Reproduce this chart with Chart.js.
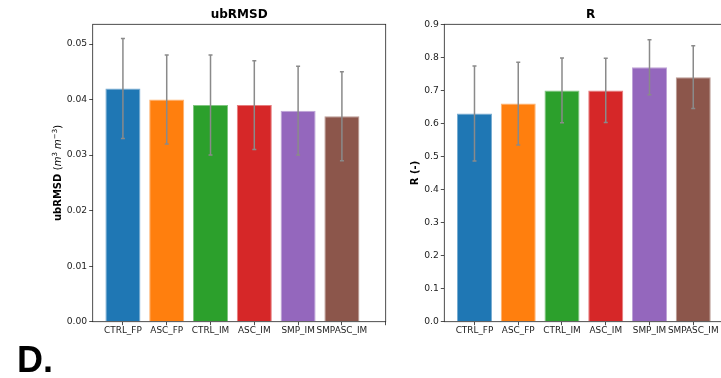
<!DOCTYPE html>
<html>
<head>
<meta charset="utf-8">
<script src="https://cdn.jsdelivr.net/npm/chart.js@4.4.1/dist/chart.umd.min.js"></script>
<style>
  html, body { margin: 0; padding: 0; background: #fff; overflow: hidden; width: 721px; height: 378px }
  #grafico-ubrmsd { position: absolute; left: 0; top: 0 }
  #grafico-r { position: absolute; left: 380px; top: 0 }
  #letra { position: absolute; left: 17px; top: 342px; font: bold 36px 'Liberation Sans', Arial, sans-serif; line-height: 1; color: #000 }
</style>
</head>
<body>
<canvas id="grafico-ubrmsd" width="400" height="378"></canvas>
<canvas id="grafico-r" width="400" height="378"></canvas>
<div id="letra">D.</div>
<script>
const categorias = ['CTRL_FP', 'ASC_FP', 'CTRL_IM', 'ASC_IM', 'SMP_IM', 'SMPASC_IM']
const ubrmsd = [0.042, 0.040, 0.039, 0.039, 0.038, 0.037]
const erroUbrmsd = [0.009, 0.008, 0.009, 0.008, 0.008, 0.008]
const valoresR = [0.63, 0.66, 0.70, 0.70, 0.77, 0.74]
const erroR = [0.144, 0.125, 0.098, 0.097, 0.083, 0.095]
const ticksUbrmsd = [0, 0.01, 0.02, 0.03, 0.04, 0.05]
const ticksR = [0, 0.1, 0.2, 0.3, 0.4, 0.5, 0.6, 0.7, 0.8, 0.9]
const cores = ['#1f77b4', '#ff7f0e', '#2ca02c', '#d62728', '#9467bd', '#8c564b']

const fonte = 'DejaVu Sans'
// posicoes dos ticks do eixo x (um a mais no fim, sem rotulo)
const posicoesX = [...categorias.map((c, i) => i), categorias.length]

function clarear(hex, f) {
    const n = parseInt(hex.slice(1), 16)
    const mix = c => Math.round(c + (255 - c) * f)
    return `rgb(${mix(n >> 16)},${mix((n >> 8) & 255)},${mix(n & 255)})`
}

const moldura = {
    id: 'moldura',
    afterDraw(chart) {
        const { ctx, chartArea: a } = chart
        ctx.save()
        ctx.strokeStyle = '#222'
        ctx.lineWidth = 0.8
        ctx.strokeRect(a.left, a.top, a.right - a.left, a.bottom - a.top)
        ctx.restore()
    }
}

const barrasErro = {
    id: 'barrasErro',
    afterDatasetsDraw(chart, args, opts) {
        const { ctx } = chart
        const y = chart.scales.y
        const meta = chart.getDatasetMeta(0)
        const dados = chart.data.datasets[0].data
        ctx.save()
        ctx.strokeStyle = '#8a8a8a'
        ctx.lineWidth = 1.5
        meta.data.forEach((barra, i) => {
            const v = dados[i].y
            const e = opts.erros[i]
            const topo = y.getPixelForValue(v + e)
            const base = y.getPixelForValue(v - e)
            ctx.beginPath()
            ctx.moveTo(barra.x, topo)
            ctx.lineTo(barra.x, base)
            ctx.moveTo(barra.x - 2, topo)
            ctx.lineTo(barra.x + 2, topo)
            ctx.moveTo(barra.x - 2, base)
            ctx.lineTo(barra.x + 2, base)
            ctx.stroke()
        })
        ctx.restore()
    }
}

// rotulo do eixo y com partes em negrito, italico e sobrescrito
const rotuloY = {
    id: 'rotuloY',
    afterDraw(chart, args, opts) {
        if (!opts.partes) return
        const { ctx, chartArea: a } = chart
        ctx.save()
        let total = 0
        opts.partes.forEach(p => {
            ctx.font = p.fonte
            total += ctx.measureText(p.texto).width
        })
        ctx.translate(opts.x, (a.top + a.bottom) / 2)
        ctx.rotate(-Math.PI / 2)
        ctx.fillStyle = '#000'
        ctx.textBaseline = 'alphabetic'
        let x = -total / 2
        opts.partes.forEach(p => {
            ctx.font = p.fonte
            ctx.fillText(p.texto, x, 3.6 + (p.sobe || 0))
            x += ctx.measureText(p.texto).width
        })
        ctx.restore()
    }
}

function criarGrafico(canvasId, cfg) {
    return new Chart(document.getElementById(canvasId), {
        type: 'bar',
        data: {
            datasets: [{
                data: cfg.valores.map((v, i) => ({ x: i, y: v })),
                backgroundColor: cores,
                borderColor: cores.map(c => clarear(c, 0.4)),
                borderWidth: 1,
                borderSkipped: 'start',
                categoryPercentage: 1,
                barPercentage: 0.8
            }]
        },
        options: {
            responsive: false,
            animation: false,
            layout: { padding: cfg.padding },
            plugins: {
                legend: { display: false },
                tooltip: { enabled: false },
                title: {
                    display: true,
                    text: cfg.titulo,
                    fullSize: false,
                    color: '#000',
                    font: { family: fonte, size: 12, weight: 'bold' },
                    padding: { top: 7.8, bottom: 2.1 }
                },
                barrasErro: { erros: cfg.erros },
                rotuloY: { partes: cfg.partesRotulo, x: cfg.xRotulo }
            },
            scales: {
                x: {
                    type: 'linear',
                    min: -0.69,
                    max: categorias.length,
                    offset: false,
                    afterBuildTicks: s => { s.ticks = posicoesX.map(v => ({ value: v })) },
                    afterFit: s => { s.height = cfg.alturaX },
                    grid: { offset: false, drawOnChartArea: false, drawTicks: true, tickLength: 3.5, tickColor: '#222', lineWidth: 0.8 },
                    border: { display: false },
                    ticks: {
                        padding: 0,
                        color: '#222',
                        autoSkip: false,
                        maxRotation: 0,
                        font: { family: fonte, size: 8.9 },
                        callback: v => categorias[v] ?? ''
                    }
                },
                y: {
                    min: 0,
                    max: cfg.maxY,
                    afterBuildTicks: s => { s.ticks = cfg.ticksY.map(v => ({ value: v })) },
                    afterFit: s => { s.width = cfg.larguraY },
                    grid: { drawOnChartArea: false, drawTicks: true, tickLength: 3.5, tickColor: '#222', lineWidth: 0.8 },
                    border: { display: false },
                    ticks: {
                        padding: 2,
                        color: '#222',
                        font: { family: fonte, size: 9.2 },
                        callback: v => v.toFixed(cfg.casas)
                    },
                    title: cfg.tituloY ? {
                        display: true,
                        text: cfg.tituloY,
                        color: '#000',
                        font: { family: fonte, size: 10, weight: 'bold' },
                        padding: { top: 29, bottom: 0 }
                    } : { display: false }
                }
            }
        },
        plugins: [barrasErro, moldura, rotuloY]
    })
}

criarGrafico('grafico-ubrmsd', {
    valores: ubrmsd,
    erros: erroUbrmsd,
    ticksY: ticksUbrmsd,
    maxY: 0.05355,
    casas: 2,
    titulo: 'ubRMSD',
    padding: { left: 0, right: 14.3, top: 0, bottom: 0 },
    larguraY: 92.7,
    alturaX: 56.3,
    xRotulo: 57,
    partesRotulo: [
        { texto: 'ubRMSD ', fonte: `bold 10px ${fonte}` },
        { texto: '(', fonte: `10px ${fonte}` },
        { texto: 'm', fonte: `italic 10px ${fonte}` },
        { texto: '3', fonte: `7px ${fonte}`, sobe: -4 },
        { texto: ' m', fonte: `italic 10px ${fonte}` },
        { texto: '\u22123', fonte: `7px ${fonte}`, sobe: -4 },
        { texto: ')', fonte: `10px ${fonte}` }
    ]
})

criarGrafico('grafico-r', {
    valores: valoresR,
    erros: erroR,
    ticksY: ticksR,
    maxY: 0.9,
    casas: 1,
    titulo: 'R',
    tituloY: 'R (-)',
    padding: { left: 0, right: 43, top: 0, bottom: 0 },
    larguraY: 64.3,
    alturaX: 56.3
})
</script>
</body>
</html>
